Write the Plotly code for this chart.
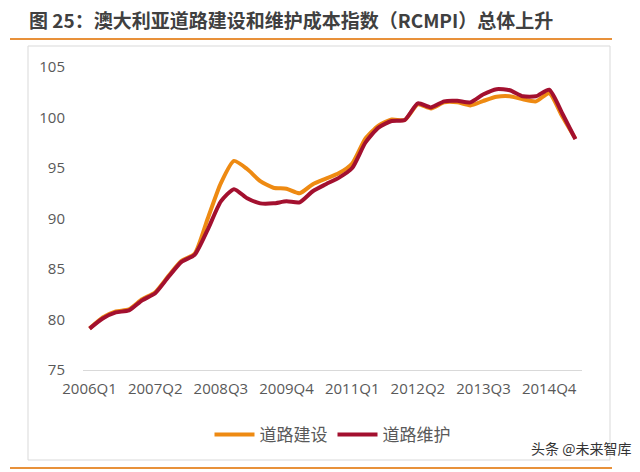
import plotly.graph_objects as go

quarters = [f"{y}Q{q}" for y in range(2006, 2016) for q in range(1, 5)][:38]

construction = [79.1, 80.2, 80.8, 81.0, 82.0, 82.7, 84.3, 85.8, 86.5, 90.0,
                93.5, 95.7, 94.9, 93.7, 93.05, 92.95, 92.5, 93.4, 93.95, 94.5,
                95.45, 97.9, 99.2, 99.8, 99.75, 101.3, 100.9, 101.5, 101.5, 101.2,
                101.65, 102.05, 102.1, 101.8, 101.6, 102.4, 100.1, 97.9]

maintenance = [79.1, 80.1, 80.7, 80.9, 81.9, 82.6, 84.2, 85.7, 86.4, 88.9,
               91.7, 92.9, 92.0, 91.5, 91.5, 91.7, 91.6, 92.7, 93.4, 94.05,
               95.0, 97.5, 99.0, 99.65, 99.75, 101.4, 101.0, 101.6, 101.65, 101.5,
               102.3, 102.8, 102.7, 102.1, 102.1, 102.75, 100.4, 97.85]

tick_labels = ["2006Q1", "2007Q2", "2008Q3", "2009Q4", "2011Q1", "2012Q2", "2013Q3", "2014Q4"]
y_ticks = [75, 80, 85, 90, 95, 100, 105]

ORANGE = "#EE8A12"
RED = "#A3102F"
GREY = "#595959"

fig = go.Figure()
fig.add_trace(go.Scatter(x=quarters, y=construction, mode="lines", name="道路建设",
                         line=dict(color=ORANGE, width=4, shape="spline", smoothing=0.6)))
fig.add_trace(go.Scatter(x=quarters, y=maintenance, mode="lines", name="道路维护",
                         line=dict(color=RED, width=4, shape="spline", smoothing=0.6)))

W, H = 640, 472
L, R, T, B = 83, 582, 67, 370
pw, ph = R - L, B - T

def px(xp):
    return (xp - L) / pw

def py(yp):
    return (B - yp) / ph

shapes = [
    dict(type="rect", xref="paper", yref="paper", x0=px(28), x1=px(610), y0=py(460), y1=py(46),
         line=dict(color="#D9D9D9", width=1), layer="below"),
    dict(type="line", xref="paper", yref="paper", x0=px(10), x1=px(612), y0=py(39), y1=py(39),
         line=dict(color="#E8913A", width=2)),
    dict(type="line", xref="paper", yref="paper", x0=px(10), x1=px(612), y0=py(468), y1=py(468),
         line=dict(color="#E8913A", width=2)),
]

annotations = [
    dict(text="<b>图 25：澳大利亚道路建设和维护成本指数（RCMPI）总体上升</b>", xref="paper", yref="paper",
         x=px(27), y=py(19), xanchor="left", yanchor="middle", showarrow=False,
         font=dict(family="Noto Sans CJK SC", size=19, color="#404040")),
    dict(text="头条 @未来智库", xref="paper", yref="paper",
         x=px(633), y=py(448), xanchor="right", yanchor="middle", showarrow=False,
         font=dict(family="Noto Sans CJK SC", size=14, color="#333333")),
]

fig.update_layout(
    width=W, height=H,
    margin=dict(l=L, r=W - R, t=T, b=H - B, pad=0),
    paper_bgcolor="white", plot_bgcolor="white",
    showlegend=True,
    legend=dict(orientation="h", x=0.5, xanchor="center", y=py(435), yanchor="middle",
                font=dict(family="Noto Sans CJK SC", size=17, color=GREY),
                itemwidth=40, tracegroupgap=0),
    xaxis=dict(type="category", range=[-0.5, 37.5], tickmode="array",
               tickvals=tick_labels, ticktext=tick_labels,
               showgrid=False, zeroline=False, showline=True, linecolor="#D9D9D9", linewidth=1,
               ticks="outside", ticklen=5, tickcolor="rgba(0,0,0,0)",
               tickfont=dict(family="Open Sans", size=15, color=GREY), tickangle=0),
    yaxis=dict(range=[75, 105], tickmode="array", tickvals=y_ticks,
               showgrid=False, zeroline=False, showline=False,
               ticks="outside", ticklen=14, tickcolor="rgba(0,0,0,0)",
               tickfont=dict(family="Open Sans", size=15, color=GREY)),
    shapes=shapes, annotations=annotations,
)

fig.write_html("out.html", config={"displayModeBar": False},
               post_script="document.body.style.margin='0';")
